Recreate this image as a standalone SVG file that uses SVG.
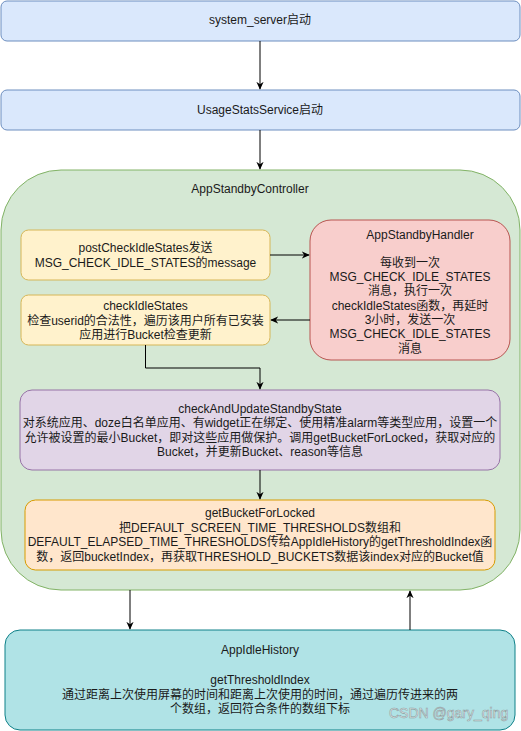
<svg xmlns="http://www.w3.org/2000/svg" width="521" height="731" viewBox="0 0 521 731">
<defs>
<marker id="arr" viewBox="0 0 10 10" refX="9" refY="5" markerWidth="8" markerHeight="8" markerUnits="userSpaceOnUse" orient="auto">
<path d="M0,0.5 L10,5 L0,9.5 L3,5 Z" fill="#000"/>
</marker>
<style>
text{font-family:"Liberation Sans","Noto Sans CJK SC",sans-serif;font-size:12px;fill:#1a1a1a;text-anchor:middle}
.c{fill:none;stroke:#000;stroke-width:1}
.wm{font-size:14px;fill:#f2fafa;stroke:#8c9c9e;stroke-width:0.6;text-anchor:start}
</style>
</defs>
<rect width="521" height="731" fill="#ffffff"/>
<g id="system_server">
<rect x="1" y="1" width="519" height="40" rx="6" fill="#dae8fc" stroke="#6c8ebf"/>
<text x="260" y="24">system_server启动</text>
</g>
<g id="usagestats">
<rect x="1" y="90" width="519" height="40" rx="6" fill="#dae8fc" stroke="#6c8ebf"/>
<text x="260" y="114">UsageStatsService启动</text>
</g>
<g id="controller">
<rect x="1" y="170" width="519" height="420" rx="60" fill="#d5e8d4" stroke="#82b366"/>
<text x="250" y="193">AppStandbyController</text>
</g>
<g id="post">
<rect x="21" y="230" width="249" height="50" rx="7.5" fill="#fff2cc" stroke="#d6b656"/>
<text x="145.5" y="252">postCheckIdleStates发送</text>
<text x="145.5" y="267">MSG_CHECK_IDLE_STATES的message</text>
</g>
<g id="handler">
<rect x="310" y="220" width="200" height="140" rx="21" fill="#f8cecc" stroke="#b85450"/>
<text x="420" y="239">AppStandbyHandler</text>
<text x="410" y="267">每收到一次</text>
<text x="410" y="281">MSG_CHECK_IDLE_STATES</text>
<text x="410" y="295">消息，执行一次</text>
<text x="410" y="310">checkIdleStates函数，再延时</text>
<text x="410" y="324">3小时，发送一次</text>
<text x="410" y="338">MSG_CHECK_IDLE_STATES</text>
<text x="410" y="353">消息</text>
</g>
<g id="checkIdle">
<rect x="21" y="295" width="249" height="50" rx="7.5" fill="#fff2cc" stroke="#d6b656"/>
<text x="145.5" y="310">checkIdleStates</text>
<text x="145.5" y="325">检查userid的合法性，遍历该用户所有已安装</text>
<text x="145.5" y="339">应用进行Bucket检查更新</text>
</g>
<g id="checkAndUpdate">
<rect x="20" y="390" width="480" height="80" rx="12" fill="#e1d5e7" stroke="#9673a6"/>
<text x="260" y="413">checkAndUpdateStandbyState</text>
<text x="260" y="427">对系统应用、doze白名单应用、有widget正在绑定、使用精准alarm等类型应用，设置一个</text>
<text x="260" y="442">允许被设置的最小Bucket，即对这些应用做保护。调用getBucketForLocked，获取对应的</text>
<text x="260" y="456">Bucket，并更新Bucket、reason等信息</text>
</g>
<g id="getBucket">
<rect x="25" y="500" width="470" height="70" rx="10.5" fill="#ffe6cc" stroke="#d79b00"/>
<text x="260" y="517">getBucketForLocked</text>
<text x="260" y="532">把DEFAULT_SCREEN_TIME_THRESHOLDS数组和</text>
<text x="260" y="546">DEFAULT_ELAPSED_TIME_THRESHOLDS传给AppIdleHistory的getThresholdIndex函</text>
<text x="260" y="561">数，返回bucketIndex，再获取THRESHOLD_BUCKETS数据该index对应的Bucket值</text>
</g>
<g id="appIdleHistory">
<rect x="5" y="630" width="510" height="100" rx="15" fill="#b0e3e6" stroke="#0e8088"/>
<text x="260" y="654">AppIdleHistory</text>
<text x="260" y="684">getThresholdIndex</text>
<text x="260" y="699">通过距离上次使用屏幕的时间和距离上次使用的时间，通过遍历传进来的两</text>
<text x="260" y="713">个数组，返回符合条件的数组下标</text>
</g>
<g id="connectors">
<path class="c" d="M260,41 V89" marker-end="url(#arr)"/>
<path class="c" d="M260,130 V169" marker-end="url(#arr)"/>
<path class="c" d="M270,255 H309" marker-end="url(#arr)"/>
<path class="c" d="M310,320 H271" marker-end="url(#arr)"/>
<path class="c" d="M145.5,345 V368 H260 V389" marker-end="url(#arr)"/>
<path class="c" d="M260,470 V499" marker-end="url(#arr)"/>
<path class="c" d="M130,590 V629" marker-end="url(#arr)"/>
<path class="c" d="M410,630 V591" marker-end="url(#arr)"/>
</g>
<text class="wm" x="389" y="718">CSDN @gary_qing</text>
</svg>
